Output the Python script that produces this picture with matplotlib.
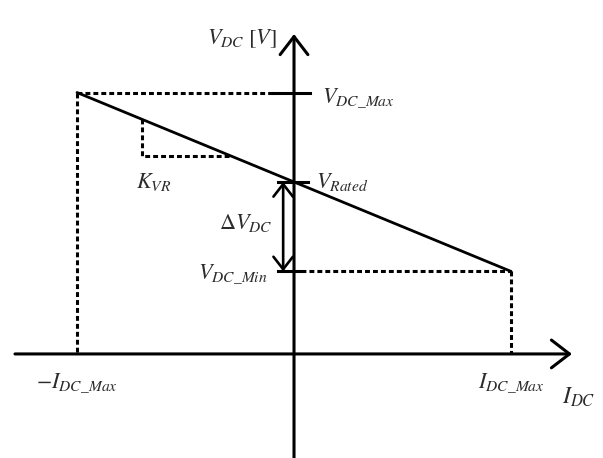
import matplotlib
matplotlib.use("Agg")
import matplotlib.pyplot as plt

plt.rcParams["mathtext.fontset"] = "stix"

# Droop characteristic (normalised units)
i_max = 1.0          # I_DC_Max
v_rated = 1.0        # V_Rated
delta_v = 0.52       # ΔV_DC between rated and min voltage
v_max = v_rated + delta_v
v_min = v_rated - delta_v

currents = [-i_max, i_max]
voltages = [v_max, v_min]

# Slope-marker triangle (K_VR) on the droop line
k_i = [-0.70, -0.29]


def v_of(i):
    return v_rated - delta_v * i / i_max


fig = plt.figure(figsize=(6.03, 4.58), dpi=100)
ax = fig.add_axes([0, 0, 1, 1])
ax.set_xlim(-1.355, 1.424)
ax.set_ylim(-0.605, 2.058)
ax.axis("off")

blk = "black"
txt = "#2b2b2b"
axis_lw = 2.2
dash = (0, (1.6, 1.0))

# Coordinate axes with open arrow heads
ax.annotate("", xy=(1.281, 0), xytext=(-1.286, 0),
            arrowprops=dict(arrowstyle="->,head_length=0.65,head_width=0.5",
                            lw=axis_lw, color=blk, mutation_scale=20,
                            shrinkA=0, shrinkB=0))
ax.annotate("", xy=(0, 1.86), xytext=(0, -0.62),
            arrowprops=dict(arrowstyle="->,head_length=0.65,head_width=0.5",
                            lw=axis_lw, color=blk, mutation_scale=20,
                            shrinkA=0, shrinkB=0))

# Droop line
ax.plot(currents, voltages, color=blk, lw=2.0, solid_capstyle="round", zorder=3)

# Dashed guides to the axes
ax.plot([currents[0], -0.097], [v_max, v_max], color=blk, lw=axis_lw, ls=dash)
ax.plot([currents[0], currents[0]], [v_max, 0], color=blk, lw=axis_lw, ls=dash)
ax.plot([0.03, currents[1]], [v_min, v_min], color=blk, lw=axis_lw, ls=dash)
ax.plot([currents[1], currents[1]], [v_min, 0], color=blk, lw=axis_lw, ls=dash)

# Tick marks on the voltage axis
ax.plot([-0.097, 0.074], [v_max, v_max], color=blk, lw=axis_lw)
ax.plot([-0.074, 0.065], [v_rated, v_rated], color=blk, lw=axis_lw)
ax.plot([-0.074, 0.03], [v_min, v_min], color=blk, lw=axis_lw)

# K_VR slope triangle
ax.plot([k_i[0], k_i[0], k_i[1]], [v_of(k_i[0]), v_of(k_i[1]), v_of(k_i[1])],
        color=blk, lw=axis_lw, ls=dash)

# ΔV_DC double arrow
ax.annotate("", xy=(-0.05, v_min), xytext=(-0.05, v_rated),
            arrowprops=dict(arrowstyle="<->,head_length=0.45,head_width=0.35",
                            lw=1.9, color=blk, mutation_scale=20,
                            shrinkA=0, shrinkB=0))

fs = 16
ax.text(-0.08, 1.83, r"$V_{DC}\ [V]$", fontsize=fs, color=txt,
        ha="right", va="center")
ax.text(0.13, v_max - 0.03, r"$V_{DC\_Max}$", fontsize=fs, color=txt,
        ha="left", va="center")
ax.text(0.10, v_rated + 0.0, r"$V_{Rated}$", fontsize=fs, color=txt,
        ha="left", va="center")
ax.text(-0.728, v_rated + 0.0, r"$K_{VR}$", fontsize=fs, color=txt,
        ha="left", va="center")
ax.text(-0.10, (v_rated + v_min) / 2 + 0.02, r"$\Delta V_{DC}$", fontsize=fs,
        color=txt, ha="right", va="center")
ax.text(-0.12, v_min - 0.01, r"$V_{DC\_Min}$", fontsize=fs, color=txt,
        ha="right", va="center")
ax.text(-i_max, -0.165, r"$-I_{DC\_Max}$", fontsize=fs, color=txt,
        ha="center", va="center")
ax.text(i_max, -0.165, r"$I_{DC\_Max}$", fontsize=fs, color=txt,
        ha="center", va="center")
ax.text(1.235, -0.25, r"$I_{DC}$", fontsize=fs + 1, color=txt,
        ha="left", va="center")

fig.savefig("out.png", dpi=100)
